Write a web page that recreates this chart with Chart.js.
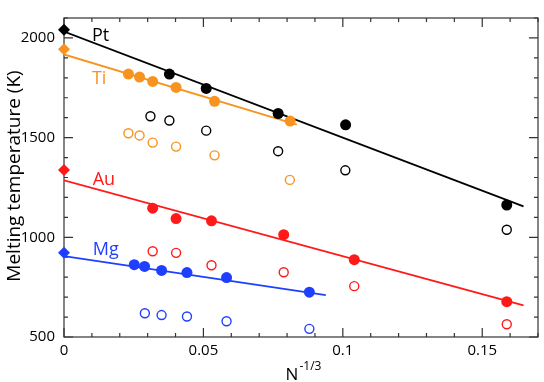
<!DOCTYPE html>
<html lang="en">
<head>
    <meta charset="UTF-8">
    <title>Melting temperature</title>
    <script src="https://cdn.jsdelivr.net/npm/chart.js"></script>
    <style>
        html, body { margin: 0; padding: 0; background: #fff; }
        #wrap { width: 544px; height: 382px; }
    </style>
</head>
<body>
<div id="wrap">
    <canvas id="melt"></canvas>
</div>

<script>
    // axis ticks
    const xTicks = [0, 0.05, 0.1, 0.15];
    const yTicks = [500, 1000, 1500, 2000];

    // bulk melting points (N^-1/3 = 0)
    const ptBulk = [{x: 0, y: 2041}];
    const tiBulk = [{x: 0, y: 1943}];
    const auBulk = [{x: 0, y: 1337}];
    const mgBulk = [{x: 0, y: 923}];

    // filled circles
    const ptFilled = [
        {x: 0.0378, y: 1819}, {x: 0.051, y: 1747}, {x: 0.0768, y: 1621},
        {x: 0.101, y: 1564}, {x: 0.1588, y: 1162}
    ];
    const tiFilled = [
        {x: 0.0231, y: 1819}, {x: 0.0271, y: 1804}, {x: 0.0318, y: 1782},
        {x: 0.0402, y: 1752}, {x: 0.054, y: 1682}, {x: 0.0811, y: 1583}
    ];
    const auFilled = [
        {x: 0.0318, y: 1146}, {x: 0.0402, y: 1094}, {x: 0.0529, y: 1083},
        {x: 0.0788, y: 1013}, {x: 0.1041, y: 888}, {x: 0.1588, y: 677}
    ];
    const mgFilled = [
        {x: 0.0252, y: 863}, {x: 0.0289, y: 854}, {x: 0.035, y: 834},
        {x: 0.0441, y: 823}, {x: 0.0583, y: 798}, {x: 0.088, y: 725}
    ];

    // open circles
    const ptOpen = [
        {x: 0.031, y: 1607}, {x: 0.0378, y: 1586}, {x: 0.051, y: 1535},
        {x: 0.0768, y: 1432}, {x: 0.1009, y: 1336}, {x: 0.1588, y: 1038}
    ];
    const tiOpen = [
        {x: 0.0231, y: 1522}, {x: 0.0271, y: 1511}, {x: 0.0318, y: 1475},
        {x: 0.0402, y: 1455}, {x: 0.054, y: 1411}, {x: 0.081, y: 1288}
    ];
    const auOpen = [
        {x: 0.0318, y: 930}, {x: 0.0402, y: 922}, {x: 0.0529, y: 860},
        {x: 0.0788, y: 825}, {x: 0.1041, y: 755}, {x: 0.1588, y: 564}
    ];
    const mgOpen = [
        {x: 0.029, y: 619}, {x: 0.035, y: 610}, {x: 0.0441, y: 603},
        {x: 0.0583, y: 579}, {x: 0.088, y: 541}
    ];

    // linear fits (end points)
    const ptFit = [{x: 0, y: 2032}, {x: 0.1648, y: 1155}];
    const tiFit = [{x: 0, y: 1917}, {x: 0.0835, y: 1565}];
    const auFit = [{x: 0, y: 1286}, {x: 0.1648, y: 659}];
    const mgFit = [{x: 0, y: 906}, {x: 0.0939, y: 710}];

    const metalNames = ['Pt', 'Ti', 'Au', 'Mg'];
    const colors = {Pt: '#000000', Ti: '#f7931e', Au: '#ff1a1a', Mg: '#1f3fff'};
    const nameAnchor = {
        Pt: {x: 0.0100, y: 1984}, Ti: {x: 0.0100, y: 1768},
        Au: {x: 0.0103, y: 1261}, Mg: {x: 0.0103, y: 912}
    };

    const series = {
        Pt: [ptBulk, ptFilled, ptOpen, ptFit],
        Ti: [tiBulk, tiFilled, tiOpen, tiFit],
        Au: [auBulk, auFilled, auOpen, auFit],
        Mg: [mgBulk, mgFilled, mgOpen, mgFit]
    };

    const datasets = [];
    metalNames.forEach(name => {
        const c = colors[name];
        const [bulk, filled, open, fit] = series[name];
        datasets.push({
            label: name + ' bulk', data: bulk, pointStyle: 'rectRot', clip: false,
            pointRadius: 6, backgroundColor: c, borderColor: c, borderWidth: 0, order: 0
        });
        datasets.push({
            label: name + ' filled', data: filled, pointStyle: 'circle',
            pointRadius: 5.5, backgroundColor: c, borderColor: c, borderWidth: 0, order: 0
        });
        datasets.push({
            label: name + ' open', data: open, pointStyle: 'circle',
            pointRadius: 4.5, backgroundColor: 'rgba(0,0,0,0)', borderColor: c, borderWidth: 1.4, order: 1
        });
        datasets.push({
            label: name + ' fit', data: fit, showLine: true, pointRadius: 0,
            borderColor: c, borderWidth: 1.8, fill: false, order: 2
        });
    });

    const FONT = '"Open Sans", sans-serif';

    const framePlugin = {
        id: 'frame',
        beforeDatasetsDraw(chart) {
            const {ctx, chartArea: a, scales: {x, y}} = chart;
            ctx.save();
            ctx.strokeStyle = '#333';
            ctx.lineWidth = 1.2;
            ctx.strokeRect(a.left, a.top, a.right - a.left, a.bottom - a.top);
            ctx.beginPath();
            for (let i = 0; i <= 17; i++) {
                const v = i / 100;
                const px = x.getPixelForValue(v);
                const len = i % 5 === 0 ? 9 : 4;
                ctx.moveTo(px, a.bottom); ctx.lineTo(px, a.bottom - len);
                ctx.moveTo(px, a.top); ctx.lineTo(px, a.top + len);
            }
            for (let v = 500; v <= 2100; v += 100) {
                const py = y.getPixelForValue(v);
                const len = v % 500 === 0 ? 9 : 4;
                ctx.moveTo(a.left, py); ctx.lineTo(a.left + len, py);
                ctx.moveTo(a.right, py); ctx.lineTo(a.right - len, py);
            }
            ctx.stroke();
            ctx.restore();
        },
        afterDraw(chart) {
            const {ctx, chartArea: a, scales: {x, y}} = chart;
            ctx.save();
            // metal names
            ctx.font = '18px ' + FONT;
            ctx.textBaseline = 'alphabetic';
            ctx.textAlign = 'left';
            metalNames.forEach(name => {
                ctx.fillStyle = colors[name];
                ctx.fillText(name, x.getPixelForValue(nameAnchor[name].x), y.getPixelForValue(nameAnchor[name].y));
            });

            // axis titles
            ctx.fillStyle = '#000';
            ctx.font = '17px ' + FONT;
            const nW = ctx.measureText('N').width;
            ctx.font = '12px ' + FONT;
            const sW = ctx.measureText('-1/3').width;
            const cx = (a.left + a.right) / 2;
            const startX = cx - (nW + sW) / 2 + 2;
            ctx.font = '17px ' + FONT;
            ctx.fillText('N', startX, 380);
            ctx.font = '12px ' + FONT;
            ctx.fillText('-1/3', startX + nW + 1, 370);

            ctx.translate(20, 176);
            ctx.rotate(-Math.PI / 2);
            ctx.font = '19px ' + FONT;
            ctx.textAlign = 'center';
            ctx.fillText('Melting temperature (K)', 0, 0);
            ctx.restore();
        }
    };

    new Chart(document.getElementById('melt').getContext('2d'), {
        type: 'scatter',
        data: {datasets: datasets},
        options: {
            responsive: true,
            maintainAspectRatio: false,
            animation: false,
            layout: {padding: {top: 2, right: 1, left: 0, bottom: 0}},
            plugins: {legend: {display: false}, tooltip: {enabled: false}},
            scales: {
                x: {
                    type: 'linear', min: 0, max: 0.17,
                    grid: {display: false, drawTicks: false},
                    border: {display: false},
                    afterBuildTicks: s => { s.ticks = xTicks.map(v => ({value: v})); },
                    afterFit: s => { s.height = 45; },
                    ticks: {
                        padding: 5, color: '#000', font: {family: FONT, size: 15},
                        callback: v => String(v)
                    }
                },
                y: {
                    type: 'linear', min: 500, max: 2100,
                    grid: {display: false, drawTicks: false},
                    border: {display: false},
                    afterBuildTicks: s => { s.ticks = yTicks.map(v => ({value: v})); },
                    afterFit: s => { s.width = 64; },
                    ticks: {
                        padding: 9, color: '#000', font: {family: FONT, size: 15},
                        callback: v => String(v)
                    }
                }
            }
        },
        plugins: [framePlugin]
    });
</script>
</body>
</html>
